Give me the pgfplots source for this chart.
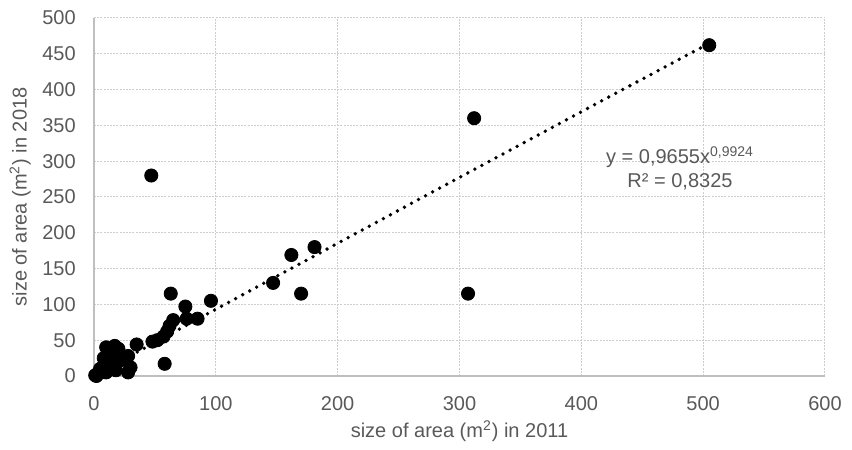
\documentclass[border=0pt]{standalone}
\usepackage{pgfplots}
\pgfplotsset{compat=1.18}
\usepackage{fontspec}
\setmainfont{Liberation Sans}
\definecolor{txtgray}{RGB}{89,89,89}
\definecolor{axgray}{RGB}{191,191,191}
\definecolor{gridgray}{RGB}{205,205,205}

\begin{document}
\begin{tikzpicture}
\begin{axis}[
    name=ax,
    scale only axis,
    width=365.5pt, height=179pt,
    xmin=0, xmax=600, ymin=0, ymax=500,
    xtick={0,100,...,600}, ytick={0,50,...,500},
    axis x line=bottom, axis y line=left,
    axis line style={axgray, line width=0.8pt, -},
    tick style={draw=none},
    grid=major,
    grid style={gridgray, dash pattern=on 1pt off 0.6pt, line width=0.5pt},
    ticklabel style={font=\fontsize{10}{12}\selectfont, text=txtgray},
    xticklabel style={yshift=-4.5pt},
    yticklabel style={xshift=-3.5pt},
    /pgf/number format/assume math mode=true,
    xlabel={size of area (m\textsuperscript{2}) in 2011},
    ylabel={size of area (m\textsuperscript{2}) in 2018},
    label style={font=\fontsize{10}{12}\selectfont, text=txtgray},
    xlabel style={at={(axis description cs:0.5,-0.155)}, anchor=center},
    ylabel style={at={(axis description cs:-0.101,0.5)}, anchor=center},
    clip=false,
]
% power trendline y = 0.9655 x^0.9924 (precomputed points)
\addplot[black, line width=1.9pt, line cap=round, dash pattern=on 0pt off 4pt] coordinates {
    (1,0.97) (10,9.5) (50,47.0) (100,93.2) (200,185.3) (300,277.4) (400,369.1) (505,464.7)
};
\addplot[only marks, mark=*, mark size=3.3pt, black] coordinates {
    (505,462) (312,360) (307,115) (47,280)
    (181,180) (162,169) (147,130) (170,115)
    (96,105) (85,80) (75,97) (76,80)
    (63,115) (65,78) (62,70) (60,62)
    (57,55) (52,50) (48,48) (58,17)
    (35,44) (28,28) (30,12) (28,5)
    (20,38) (17,42) (10,40) (12,30)
    (15,22) (22,22) (18,8) (8,25)
    (5,10) (3,3) (1,1) (2,0) (6,5) (10,5) (13,10)
};
\node[align=center, text=txtgray, font=\fontsize{10}{12}\selectfont, inner sep=0pt]
    at (axis cs:481,290) {y = 0,9655x\textsuperscript{0,9924}\\R² = 0,8325};
\end{axis}
\pgfresetboundingbox
\path[use as bounding box] (ax.south west) ++(-47pt,-37pt) rectangle ([shift={(13.5pt,9pt)}]ax.north east);
\end{tikzpicture}
\end{document}
